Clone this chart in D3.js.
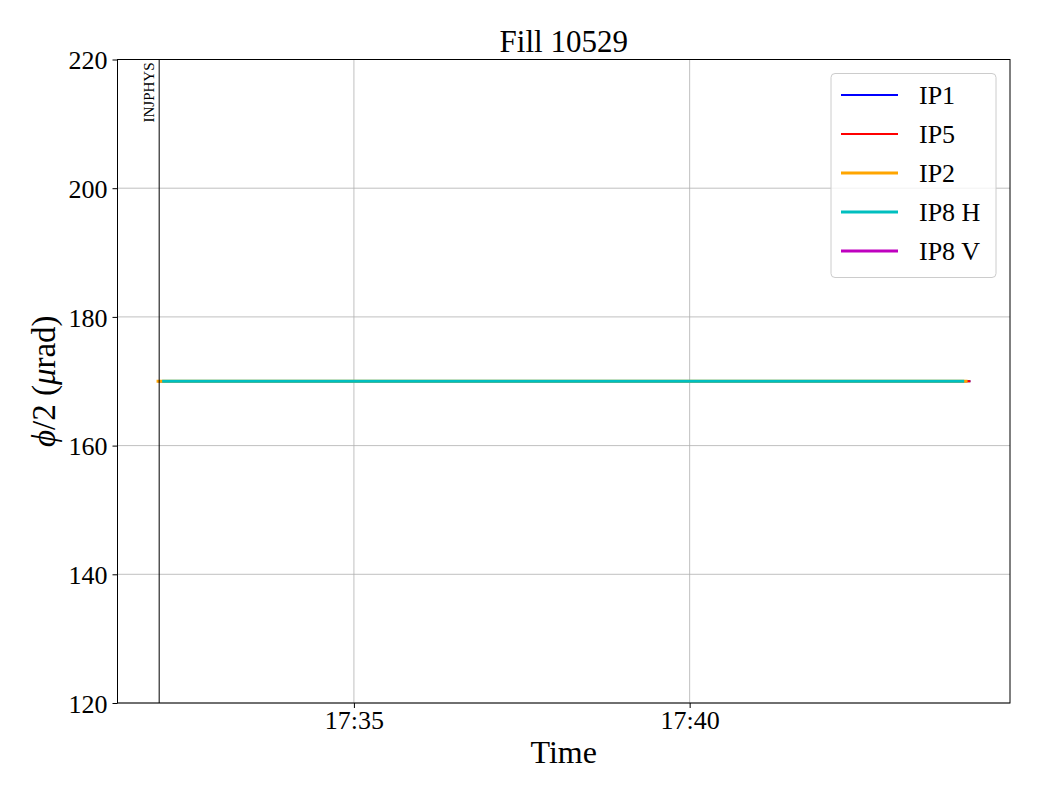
<!DOCTYPE html>
<html><head><meta charset="utf-8">
<script src="https://cdn.jsdelivr.net/npm/d3@7"></script>
<style>body{margin:0;background:#fff}svg{display:block;font-family:"Liberation Serif","DejaVu Serif",serif}</style>
</head><body><svg id="c" width="1040" height="800"></svg>
<script>
const title = "Fill 10529";
const seriesNames = ["IP1","IP5","IP2","IP8 H","IP8 V"];
const seriesColors = ["#0000ff","#ff0000","#ffa500","#00bfbf","#bf00bf"];
const seriesWidths = [2,2,3,3,3];
const ip1Times = ["17:32:06","17:44:10"], ip1Values = [170,170];
const ip5Times = ["17:32:06","17:44:10"], ip5Values = [170,170];
const ip2Times = ["17:32:05","17:44:07"], ip2Values = [170,170];
const ip8hTimes = ["17:32:10","17:44:04"], ip8hValues = [170,170];
const ip8vTimes = [], ip8vValues = [];
const markerTimes = ["17:32:06"], markerLabels = ["INJPHYS"];
const yTicks = [120,140,160,180,200,220];
const xTickTimes = ["17:35","17:40"];

const parse = s => { const p = s.split(":").map(Number); return new Date(2024,0,1,p[0],p[1],p[2]||0); };
const series = [
  [ip1Times, ip1Values],[ip5Times, ip5Values],[ip2Times, ip2Values],[ip8hTimes, ip8hValues],[ip8vTimes, ip8vValues]
].map((d,i)=>({name:seriesNames[i],color:seriesColors[i],w:seriesWidths[i],pts:d[0].map((t,j)=>({t:parse(t),v:d[1][j]}))}));

const L=117.5,R=1010,T=59.5,B=703;
const svg=d3.select("#c");
const allT = series.flatMap(s=>s.pts.map(p=>p.t)).concat(markerTimes.map(parse));
const ext = d3.extent(allT);
const pad = (ext[1]-ext[0])*0.05;
const x = d3.scaleTime().domain([new Date(+ext[0]-pad), new Date(+ext[1]+pad)]).range([L,R]);
const y = d3.scaleLinear().domain([120,220]).range([B,T]);

// grid
svg.append("g").selectAll("line").data(yTicks).join("line")
  .attr("x1",L).attr("x2",R).attr("y1",d=>y(d)).attr("y2",d=>y(d)).attr("stroke","#b0b0b0").attr("stroke-width",0.8);
svg.append("g").selectAll("line").data(xTickTimes.map(parse)).join("line")
  .attr("x1",d=>x(d)).attr("x2",d=>x(d)).attr("y1",T).attr("y2",B).attr("stroke","#b0b0b0").attr("stroke-width",0.8);

// lines
const line=d3.line().x(d=>x(d.t)).y(d=>y(d.v));
const drawOrder=[4,0,1,2,3];
drawOrder.forEach(i=>{const s=series[i]; if(!s.pts.length) return;
  svg.append("path").datum(s.pts).attr("d",line).attr("fill","none").attr("stroke",s.color).attr("stroke-width",s.w).attr("stroke-linecap","square");
});

// markers
markerTimes.forEach((m,i)=>{
  const mx=x(parse(m));
  svg.append("line").attr("x1",mx).attr("x2",mx).attr("y1",T).attr("y2",B).attr("stroke","#000").attr("stroke-width",1);
  svg.append("text").attr("transform",`translate(${mx-5},${T+3}) rotate(-90)`).attr("text-anchor","end")
    .attr("font-size",15).text(markerLabels[i]);
});

// frame
svg.append("rect").attr("x",L).attr("y",T).attr("width",R-L).attr("height",B-T).attr("fill","none").attr("stroke","#000").attr("stroke-width",1);

// axes
const xa=svg.append("g").attr("transform",`translate(0,${B})`).call(d3.axisBottom(x).tickValues(xTickTimes.map(parse)).tickFormat(d3.timeFormat("%H:%M")).tickSize(5).tickSizeOuter(0));
const ya=svg.append("g").attr("transform",`translate(${L},0)`).call(d3.axisLeft(y).tickValues(yTicks).tickSize(5).tickSizeOuter(0));
[xa,ya].forEach(a=>{a.select(".domain").remove();a.selectAll("text").attr("font-family","Liberation Serif").attr("font-size",26).attr("fill","#000");a.selectAll("line").attr("stroke","#000");});
ya.selectAll("text").attr("dx","-2").attr("dy","0.35em");

// title & labels
svg.append("text").attr("x",(L+R)/2).attr("y",52).attr("text-anchor","middle").attr("font-size",31).text(title);
svg.append("text").attr("x",(L+R)/2).attr("y",763).attr("text-anchor","middle").attr("font-size",32).text("Time");
const yl=svg.append("text").attr("transform",`translate(55,${(T+B)/2}) rotate(-90)`).attr("text-anchor","middle").attr("font-size",33);
yl.append("tspan").attr("font-style","italic").text("ϕ");
yl.append("tspan").text("/2 (");
yl.append("tspan").attr("font-style","italic").text("μ");
yl.append("tspan").text("rad)");

// legend
const lg=svg.append("g");
lg.append("rect").attr("x",831).attr("y",73.5).attr("width",165).attr("height",204).attr("rx",4)
  .attr("fill","#fff").attr("fill-opacity",0.8).attr("stroke","#cccccc").attr("stroke-width",1);
series.forEach((s,i)=>{
  const yy=95+i*39;
  lg.append("line").attr("x1",841).attr("x2",898).attr("y1",yy).attr("y2",yy).attr("stroke",s.color).attr("stroke-width",s.w);
  lg.append("text").attr("x",919).attr("y",yy+9).attr("font-size",26).text(s.name);
});
</script></body></html>
